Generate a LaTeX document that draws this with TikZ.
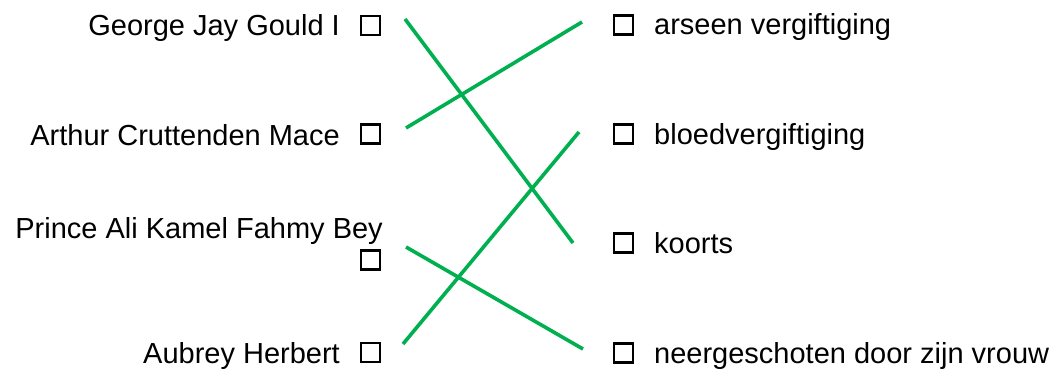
\documentclass[tikz,border=0pt]{standalone}
\usepackage{fontspec}
\setmainfont{Liberation Sans}
\begin{document}
\begin{tikzpicture}[x=1pt,y=-1pt,
  lbl/.style={inner sep=0pt,font=\fontsize{29}{35}\selectfont},
  cbox/.style={draw=black,line width=2.2pt,minimum width=19pt,minimum height=19pt,inner sep=0pt},
  link/.style={draw={rgb,255:red,0;green,176;blue,80},line width=3.6pt}]
\useasboundingbox (0,0) rectangle (1058,369);
% left column
\node[lbl,anchor=base east] (t1) at (340,36) {George Jay Gould I};
\node[cbox] (b1) at (370.8,25.4) {};
\node[lbl,anchor=base east] (t2) at (340,145) {Arthur Cruttenden Mace};
\node[cbox] (b2) at (370.8,134) {};
\node[lbl,anchor=base east] (t3) at (383,238) {Prince Ali Kamel Fahmy Bey};
\node[cbox] (b3) at (370.8,260) {};
\node[lbl,anchor=base east] (t4) at (340,363) {Aubrey Herbert};
\node[cbox] (b4) at (370.8,352.5) {};
% right column
\node[cbox] (c1) at (623.5,25) {};
\node[lbl,anchor=base west] (u1) at (654,35) {arseen vergiftiging};
\node[cbox] (c2) at (623.5,134) {};
\node[lbl,anchor=base west] (u2) at (654,144) {bloedvergiftiging};
\node[cbox] (c3) at (623.5,243) {};
\node[lbl,anchor=base west] (u3) at (654,253) {koorts};
\node[cbox] (c4) at (623.5,353) {};
\node[lbl,anchor=base west] (u4) at (654,363) {neergeschoten door zijn vrouw};
% connector ends
\coordinate (l1) at (405,19);
\coordinate (l2) at (406,128);
\coordinate (l3) at (406,247);
\coordinate (l4) at (403,344);
\coordinate (r1) at (582,22);
\coordinate (r2) at (579,132);
\coordinate (r3) at (573,243);
\coordinate (r4) at (583,349);
\draw[link] (l1) -- (r3);
\draw[link] (l2) -- (r1);
\draw[link] (l3) -- (r4);
\draw[link] (l4) -- (r2);
\end{tikzpicture}
\end{document}
